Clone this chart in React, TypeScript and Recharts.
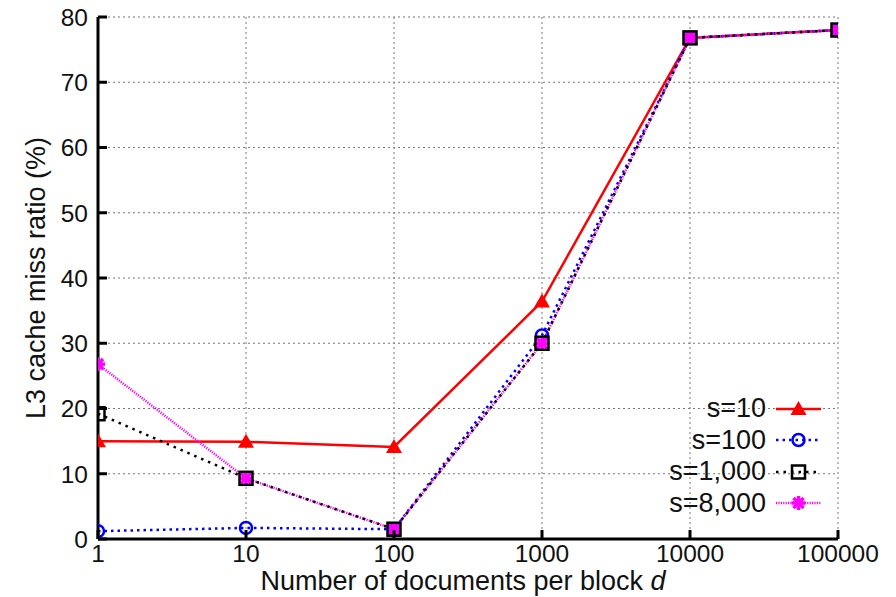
import React from "react";
import {
  LineChart,
  Line,
  XAxis,
  YAxis,
  CartesianGrid,
  Legend,
} from "recharts";

// documents per block (log axis)
const blockSizes = [1, 10, 100, 1000, 10000, 100000];
const yTicks = [0, 10, 20, 30, 40, 50, 60, 70, 80];

const missS10 = [15.0, 14.9, 14.1, 36.4, 76.8, 78.0];
const missS100 = [1.2, 1.7, 1.5, 31.2, 76.8, 78.0];
const missS1000 = [19.2, 9.3, 1.5, 30.0, 76.8, 78.0];
const missS8000 = [26.8, 9.3, 1.5, 30.0, 76.8, 78.0];

const data = blockSizes.map((d, i) => ({
  d,
  s10: missS10[i],
  s100: missS100[i],
  s1000: missS1000[i],
  s8000: missS8000[i],
}));

const FONT = "'Liberation Sans', Arial, Helvetica, sans-serif";
const TICK_FS = 24.5;
const TICK_LEN = 9;

const Triangle = ({ cx, cy }: any) => (
  <path d={`M${cx},${cy - 8} L${cx + 8},${cy + 6} L${cx - 8},${cy + 6} Z`} fill="#ff0000" />
);
const Circle = ({ cx, cy }: any) => (
  <circle cx={cx} cy={cy} r={6} fill="none" stroke="#0000ff" strokeWidth={2.5} />
);
const Square = ({ cx, cy }: any) => (
  <rect x={cx - 6.5} y={cy - 6.5} width={13} height={13} fill="none" stroke="#000" strokeWidth={2.5} />
);
const Star = ({ cx, cy }: any) => {
  const r = 7;
  const k = r * 0.72;
  return (
    <g stroke="#ff00ff" strokeWidth={3.5}>
      <line x1={cx - r} y1={cy} x2={cx + r} y2={cy} />
      <line x1={cx} y1={cy - r} x2={cx} y2={cy + r} />
      <line x1={cx - k} y1={cy - k} x2={cx + k} y2={cy + k} />
      <line x1={cx - k} y1={cy + k} x2={cx + k} y2={cy - k} />
    </g>
  );
};

const series = [
  { key: "s10", name: "s=10", color: "#ff0000", dash: undefined, width: 2.5, Marker: Triangle },
  { key: "s100", name: "s=100", color: "#0000ff", dash: "2.5 4", width: 2.5, Marker: Circle },
  { key: "s8000", name: "s=8,000", color: "#ff00ff", dash: "1.2 1.2", width: 2.5, Marker: Star },
  { key: "s1000", name: "s=1,000", color: "#000000", dash: "2.5 5", width: 2.5, Marker: Square },
];
const legendOrder = ["s10", "s100", "s1000", "s8000"];

const renderLegend = () => (
  <div style={{ fontFamily: FONT, fontSize: 27, color: "#111" }}>
    {legendOrder.map((k) => {
      const s = series.find((x) => x.key === k)!;
      const M = s.Marker;
      return (
        <div key={k} style={{ display: "flex", alignItems: "center", justifyContent: "flex-end", height: 31.5 }}>
          <span style={{ lineHeight: "27px" }}>{s.name}</span>
          <svg width={45} height={22} style={{ marginLeft: 10 }}>
            <line x1={0} y1={11} x2={45} y2={11} stroke={s.color} strokeWidth={s.width} strokeDasharray={s.dash} />
            <M cx={22.5} cy={11} />
          </svg>
        </div>
      );
    })}
  </div>
);

// tick renderers: draw the inward tick mark plus the label (gnuplot style)
const BottomTick = ({ x, y, payload }: any) => (
  <g>
    <line x1={x} y1={y - 7} x2={x} y2={y - 7 - TICK_LEN} stroke="#000" strokeWidth={3} />
    <text x={x} y={y + 16} textAnchor="middle" fontSize={TICK_FS} fontFamily={FONT} fill="#111">
      {payload.value}
    </text>
  </g>
);
const TopTick = ({ x, y }: any) => (
  <line x1={x} y1={y} x2={x} y2={y + TICK_LEN} stroke="#000" strokeWidth={3} />
);
const LeftTick = ({ x, y, payload }: any) => (
  <g>
    <line x1={x + 10} y1={y} x2={x + 10 + TICK_LEN} y2={y} stroke="#000" strokeWidth={3} />
    <text x={x} y={y + 8.8} textAnchor="end" fontSize={TICK_FS} fontFamily={FONT} fill="#111">
      {payload.value}
    </text>
  </g>
);
const RightTick = ({ x, y }: any) => (
  <line x1={x} y1={y} x2={x - TICK_LEN} y2={y} stroke="#000" strokeWidth={3} />
);

const frame = { stroke: "#000", strokeWidth: 3 };

export default function App() {
  return (
    <div style={{ position: "absolute", left: 0, top: 0, background: "#fff" }}>
      <LineChart width={896} height={597} data={data} margin={{ top: 17, right: 58, left: 0, bottom: 0 }}>
        <CartesianGrid stroke="#777" strokeWidth={1} strokeDasharray="2 3" />
        <XAxis
          dataKey="d"
          type="number"
          scale="log"
          domain={[1, 100000]}
          ticks={blockSizes}
          allowDataOverflow
          height={58}
          axisLine={frame}
          tickLine={false}
          tickSize={0}
          tickMargin={7}
          tick={BottomTick}
          interval={0}
          label={{
            content: ({ viewBox }: any) => (
              <text
                x={viewBox.x + viewBox.width / 2 - 5}
                y={viewBox.y + 51}
                textAnchor="middle"
                fontSize={27}
                fontFamily={FONT}
                fill="#111"
              >
                Number of documents per block <tspan fontStyle="italic">d</tspan>
              </text>
            ),
          }}
        />
        <XAxis
          xAxisId="top"
          orientation="top"
          dataKey="d"
          type="number"
          scale="log"
          domain={[1, 100000]}
          ticks={blockSizes}
          allowDataOverflow
          height={0}
          axisLine={frame}
          tickLine={false}
          tickSize={0}
          tickMargin={0}
          tick={TopTick}
          interval={0}
        />
        <YAxis
          type="number"
          domain={[0, 80]}
          ticks={yTicks}
          width={98}
          axisLine={frame}
          tickLine={false}
          tickSize={0}
          tickMargin={10}
          tick={LeftTick}
          interval={0}
          label={{
            content: ({ viewBox }: any) => {
              const bx = 45;
              const cy = viewBox.y + viewBox.height / 2;
              return (
                <text
                  x={bx}
                  y={cy}
                  transform={`rotate(-90, ${bx}, ${cy})`}
                  textAnchor="middle"
                  fontSize={27}
                  fontFamily={FONT}
                  fill="#111"
                >
                  L3 cache miss ratio (%)
                </text>
              );
            },
          }}
        />
        <YAxis
          yAxisId="right"
          orientation="right"
          type="number"
          domain={[0, 80]}
          ticks={yTicks}
          width={0}
          axisLine={frame}
          tickLine={false}
          tickSize={0}
          tickMargin={0}
          tick={RightTick}
          interval={0}
        />
        {series.map((s) => (
          <Line
            key={s.key}
            dataKey={s.key}
            name={s.name}
            type="linear"
            stroke={s.color}
            strokeWidth={s.width}
            strokeDasharray={s.dash}
            isAnimationActive={false}
            dot={(p: any) => <s.Marker key={`${s.key}-${p.index}`} cx={p.cx} cy={p.cy} />}
            activeDot={false}
          />
        ))}
        <Legend
          layout="horizontal"
          align="center"
          verticalAlign="middle"
          content={renderLegend}
          wrapperStyle={{ position: "absolute", left: 521, top: 393, width: 300 }}
        />
      </LineChart>
    </div>
  );
}
